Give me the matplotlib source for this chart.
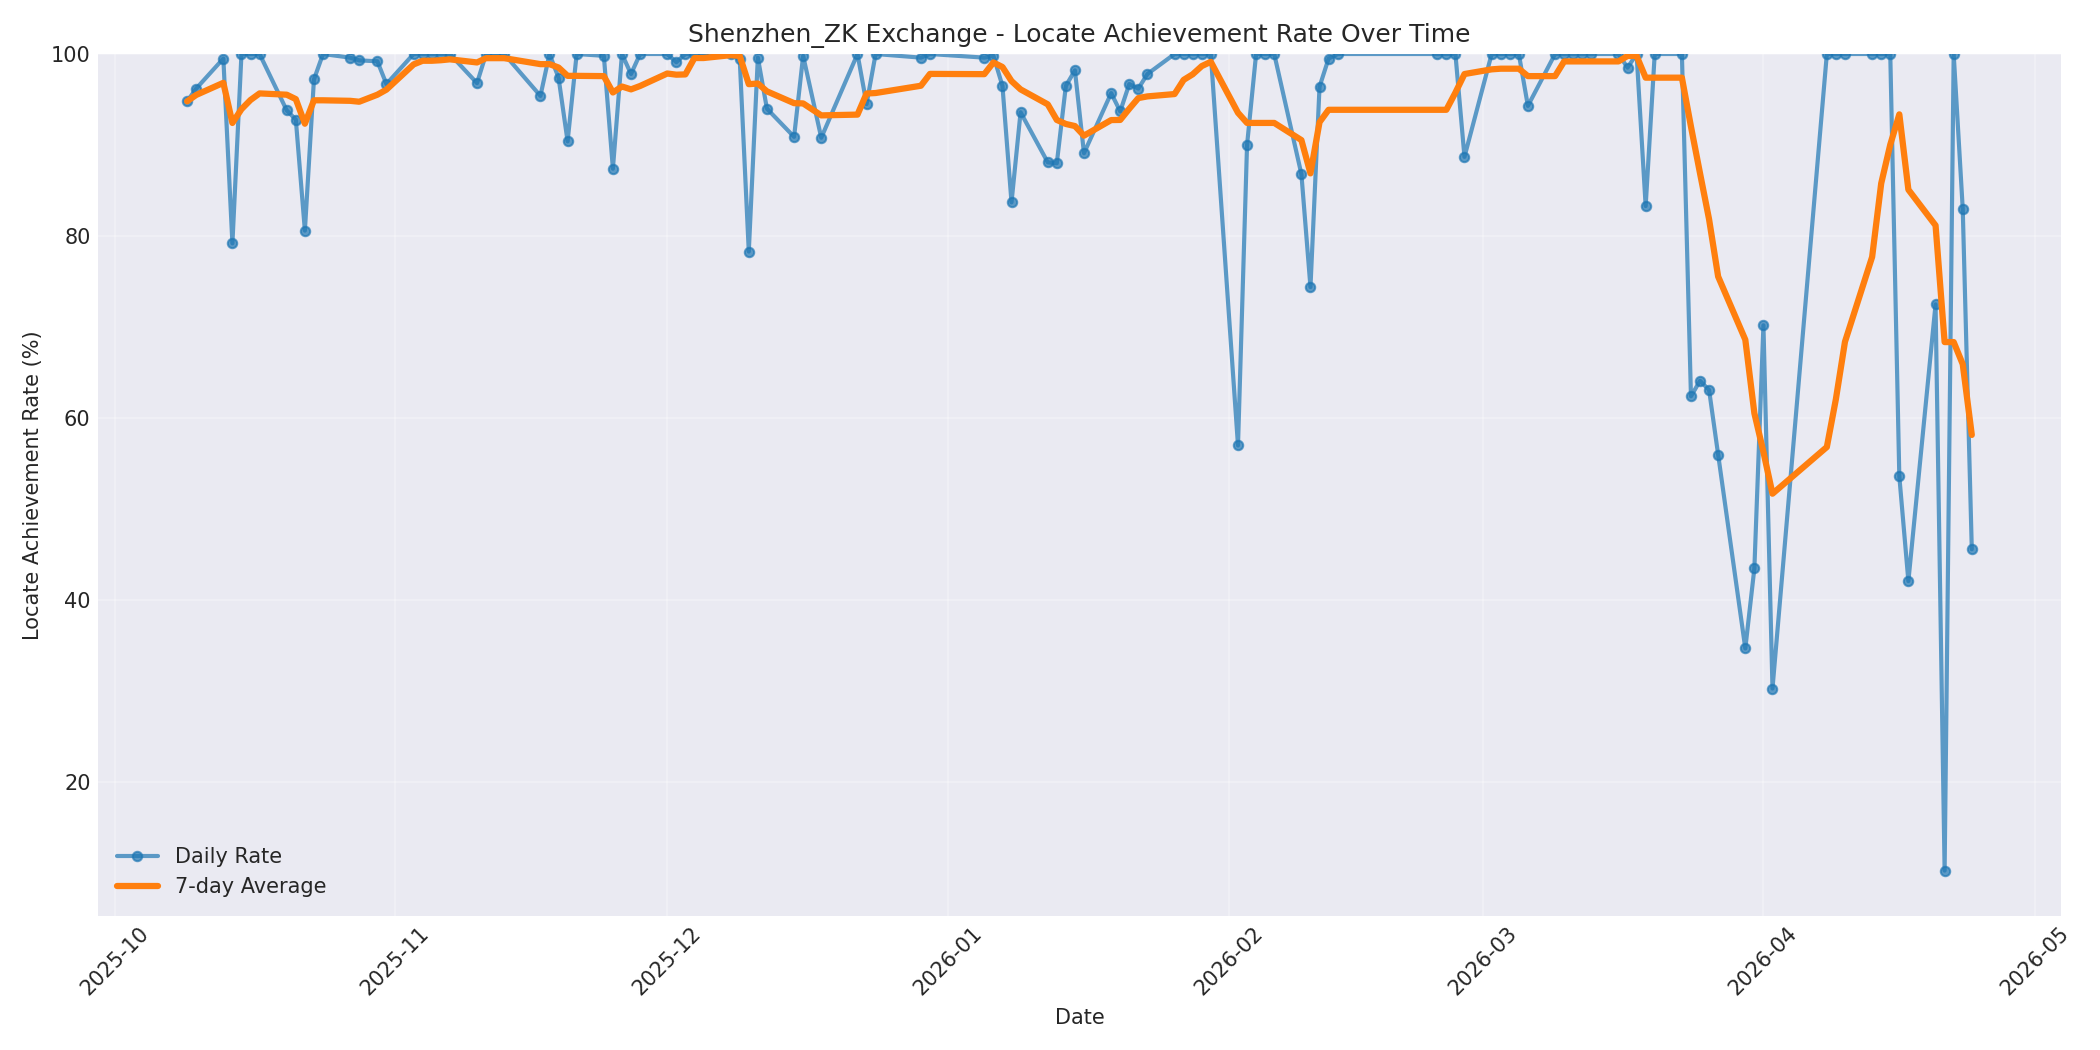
import pandas as pd
import matplotlib
matplotlib.use("Agg")
import matplotlib.pyplot as plt
import matplotlib.dates as mdates

# daily locate achievement rate (%)
oct_dates = ["2025-10-09", "2025-10-10", "2025-10-13", "2025-10-14", "2025-10-15",
             "2025-10-16", "2025-10-17", "2025-10-20", "2025-10-21", "2025-10-22",
             "2025-10-23", "2025-10-24", "2025-10-27", "2025-10-28", "2025-10-30",
             "2025-10-31"]
oct_rate = [94.8, 96.2, 99.5, 79.2, 100, 100, 100, 93.8, 92.8, 80.6,
            97.2, 100, 99.6, 99.3, 99.2, 96.7]

nov_dates = ["2025-11-03", "2025-11-04", "2025-11-05", "2025-11-06", "2025-11-07",
             "2025-11-10", "2025-11-11", "2025-11-12", "2025-11-13", "2025-11-17",
             "2025-11-18", "2025-11-19", "2025-11-20", "2025-11-21", "2025-11-24",
             "2025-11-25", "2025-11-26", "2025-11-27", "2025-11-28"]
nov_rate = [100, 100, 100, 100, 100, 96.8, 100, 100, 100, 95.4,
            100, 97.4, 90.4, 100, 99.8, 87.4, 100, 97.8, 100]

dec_dates = ["2025-12-01", "2025-12-02", "2025-12-03", "2025-12-04", "2025-12-05",
             "2025-12-08", "2025-12-09", "2025-12-10", "2025-12-11", "2025-12-12",
             "2025-12-15", "2025-12-16", "2025-12-18", "2025-12-22", "2025-12-23",
             "2025-12-24", "2025-12-29", "2025-12-30"]
dec_rate = [100, 99.1, 100, 100, 100, 100, 99.4, 78.3, 99.6, 94.0,
            90.9, 99.8, 90.8, 100, 94.5, 100, 99.6, 100]

jan_dates = ["2026-01-05", "2026-01-06", "2026-01-07", "2026-01-08", "2026-01-09",
             "2026-01-12", "2026-01-13", "2026-01-14", "2026-01-15", "2026-01-16",
             "2026-01-19", "2026-01-20", "2026-01-21", "2026-01-22", "2026-01-23",
             "2026-01-26", "2026-01-27", "2026-01-28", "2026-01-29", "2026-01-30"]
jan_rate = [99.6, 99.8, 96.5, 83.7, 93.6, 88.1, 88.0, 96.5, 98.2, 89.1,
            95.7, 93.7, 96.7, 96.2, 97.8, 100, 100, 100, 100, 100]

feb_dates = ["2026-02-02", "2026-02-03", "2026-02-04", "2026-02-05", "2026-02-06",
             "2026-02-09", "2026-02-10", "2026-02-11", "2026-02-12", "2026-02-13",
             "2026-02-24", "2026-02-25", "2026-02-26", "2026-02-27"]
feb_rate = [57.0, 90.0, 100, 100, 100, 86.8, 74.4, 96.4, 99.5, 100,
            100, 100, 100, 88.7]

mar_dates = ["2026-03-02", "2026-03-03", "2026-03-04", "2026-03-05", "2026-03-06",
             "2026-03-09", "2026-03-10", "2026-03-11", "2026-03-12", "2026-03-13",
             "2026-03-16", "2026-03-17", "2026-03-18", "2026-03-19", "2026-03-20",
             "2026-03-23", "2026-03-24", "2026-03-25", "2026-03-26", "2026-03-27",
             "2026-03-30", "2026-03-31"]
mar_rate = [100, 100, 100, 100, 94.3, 100, 100, 100, 100, 100,
            100, 98.5, 100, 83.3, 100, 100, 62.4, 64.1, 63.1, 56.0,
            34.7, 43.5]

apr_dates = ["2026-04-01", "2026-04-02", "2026-04-08", "2026-04-09", "2026-04-10",
             "2026-04-13", "2026-04-14", "2026-04-15", "2026-04-16", "2026-04-17",
             "2026-04-20", "2026-04-21", "2026-04-22", "2026-04-23", "2026-04-24"]
apr_rate = [70.2, 30.3, 100, 100, 100, 100, 100, 100, 53.6, 42.1,
            72.5, 10.3, 100, 83.0, 45.6]


def build():
    dates = oct_dates + nov_dates + dec_dates + jan_dates + feb_dates + mar_dates + apr_dates
    rates = oct_rate + nov_rate + dec_rate + jan_rate + feb_rate + mar_rate + apr_rate
    df = pd.DataFrame({"date": pd.to_datetime(dates), "rate": rates})
    df["avg7"] = df["rate"].rolling(7, min_periods=1).mean()
    return df


def plot(df):
    plt.style.use("seaborn-v0_8-darkgrid")
    plt.rcParams["font.family"] = ["DejaVu Sans"]
    fig, ax = plt.subplots(figsize=(14, 7), dpi=150)

    ax.plot(df["date"], df["rate"], marker="o", markersize=4.5, linewidth=2,
            alpha=0.7, color="#1f77b4", label="Daily Rate")
    ax.plot(df["date"], df["avg7"], linewidth=3, color="#ff7f0e",
            label="7-day Average")

    ax.set_title("Shenzhen_ZK Exchange - Locate Achievement Rate Over Time", fontsize=12)
    ax.set_xlabel("Date", fontsize=10)
    ax.set_ylabel("Locate Achievement Rate (%)", fontsize=10)
    ax.legend(loc="lower left", fontsize=10, frameon=False)
    ax.grid(True, alpha=0.3)
    ax.set_ylim(df["rate"].min() - 5, 100)

    ax.xaxis.set_major_locator(mdates.MonthLocator())
    ax.xaxis.set_major_formatter(mdates.DateFormatter("%Y-%m"))
    plt.xticks(rotation=45)
    ax.tick_params(labelsize=10)

    plt.tight_layout()
    fig.savefig("out.png", dpi=150)


if __name__ == "__main__":
    plot(build())
